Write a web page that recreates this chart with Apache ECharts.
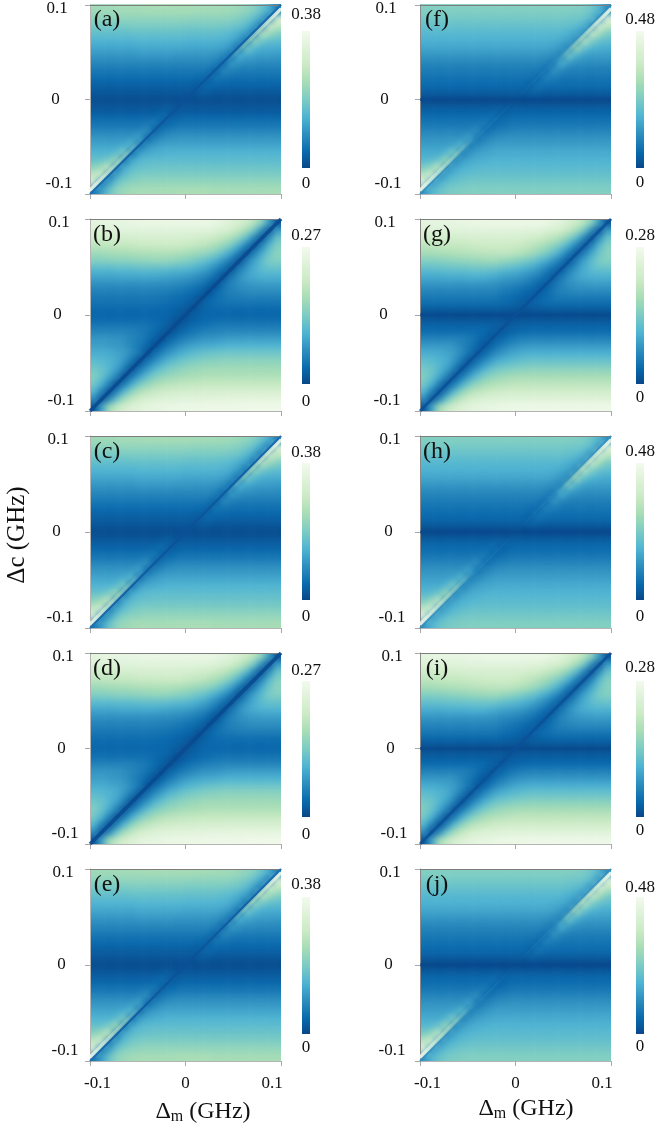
<!DOCTYPE html>
<html><head><meta charset="utf-8">
<style>html,body{margin:0;padding:0;background:#fff}#wrap{position:relative;width:657px;height:1125px;overflow:hidden}#u,#c{position:absolute;left:0;top:0;width:657px;height:1125px}#u{filter:blur(3.4px)}</style>
<script src="https://cdn.jsdelivr.net/npm/echarts@6/dist/echarts.min.js"></script>
</head><body><div id="wrap"><div id="u"></div><div id="c"></div></div>
<script>
// Rows run top (+0.1) to bottom (-0.1), columns left (-0.1) to right (+0.1).
const gridA = [
[60,60,60,61,61,61,61,62,62,62,62,62,62,62,61,61,61,60,60,58,56,52,45,35,18],
[55,55,55,55,56,56,56,56,56,56,56,56,56,55,55,55,55,55,54,52,48,42,32,16,85],
[49,49,49,49,49,50,50,50,50,50,50,50,49,49,49,49,49,48,47,45,40,30,15,80,70],
[43,43,43,43,43,44,44,44,44,44,44,44,43,43,43,43,43,42,40,36,30,14,72,60,52],
[38,38,38,38,38,38,39,39,39,39,39,39,38,38,38,38,38,37,34,28,13,58,48,43,42],
[33,33,33,33,33,33,34,34,34,34,34,34,33,33,33,33,33,31,26,12,50,40,36,35,35],
[28,28,28,28,28,28,29,29,29,29,29,28,28,28,28,28,27,23,12,38,33,31,30,30,29],
[23,23,23,23,23,23,23,23,23,23,23,23,23,23,23,23,20,11,30,27,25,25,24,24,24],
[18,18,18,18,18,18,18,18,18,18,18,18,18,18,18,16,10,24,21,20,19,19,19,19,19],
[14,14,14,14,14,14,14,14,14,14,14,14,14,14,13,9,18,16,15,15,15,15,15,15,15],
[10,10,10,10,10,10,10,10,10,10,10,10,10,9,8,13,12,11,11,11,11,11,11,11,11],
[7,7,7,7,7,7,7,7,7,7,7,7,7,6,9,8,7,7,7,7,7,7,7,7,7],
[4,4,4,4,4,4,4,4,4,4,4,4,5,4,4,4,4,4,4,4,4,4,4,4,4],
[7,7,7,7,7,7,7,7,7,8,9,6,7,7,7,7,7,7,7,7,7,7,7,7,7],
[11,11,11,11,11,11,11,11,12,14,8,10,11,11,11,11,11,11,11,11,11,11,11,11,11],
[16,16,16,16,16,16,16,17,19,9,13,15,16,16,16,16,16,16,16,16,16,16,16,16,16],
[22,22,22,22,22,22,23,26,10,17,20,22,22,22,22,22,22,22,22,22,22,22,22,22,22],
[28,28,28,28,28,29,33,11,21,25,27,28,28,28,28,28,28,28,28,28,28,28,28,28,28],
[33,33,33,33,35,42,12,26,30,32,33,33,33,33,33,33,33,33,33,33,33,33,33,33,33],
[38,38,38,42,52,13,30,34,36,37,38,38,38,38,38,38,38,38,38,38,38,38,38,38,38],
[44,45,50,62,14,34,39,41,42,42,42,42,42,42,42,42,42,42,42,42,42,42,42,42,42],
[55,62,75,15,35,42,44,45,46,46,46,46,46,46,46,46,46,46,46,46,46,46,46,46,46],
[72,82,16,32,42,48,50,51,51,51,51,51,51,51,51,51,51,51,51,51,51,51,51,51,51],
[85,16,30,45,52,55,56,57,57,57,57,57,57,57,57,57,57,57,57,57,57,57,57,57,57],
[17,30,45,55,59,61,62,62,62,62,62,63,63,63,63,63,62,62,62,62,62,62,62,62,62]
];
const gridB = [
[90,90,91,91,92,92,93,93,93,93,93,93,93,93,93,93,92,89,86,82,76,68,55,30,6],
[85,85,86,86,87,87,88,88,88,88,88,88,88,88,87,87,84,82,78,72,62,48,25,5,30],
[78,78,79,79,80,80,81,81,81,81,81,81,80,80,78,76,74,70,64,55,42,22,5,25,45],
[70,70,71,72,72,73,74,74,75,75,75,75,74,72,70,67,63,57,49,37,20,5,22,40,52],
[60,60,61,62,62,63,64,64,65,65,65,64,62,60,58,55,50,42,32,18,4,20,35,47,55],
[52,52,53,54,54,55,55,56,57,57,56,54,52,49,46,41,35,27,17,4,20,32,42,50,52],
[41,41,41,42,42,42,43,43,43,43,42,41,40,38,34,30,23,15,4,19,28,36,42,44,44],
[33,33,33,33,34,34,34,34,34,33,32,31,30,28,25,20,14,4,17,26,32,35,37,37,37],
[26,26,26,26,26,26,26,26,26,25,25,24,22,20,17,12,4,15,22,26,28,29,30,30,30],
[21,21,21,21,21,21,21,21,21,20,19,18,16,14,11,4,13,18,21,23,24,25,25,25,25],
[17,17,17,17,17,17,17,17,17,16,15,14,12,10,4,12,15,17,18,19,19,19,19,19,19],
[14,14,14,14,14,14,14,14,14,13,12,11,9,4,10,12,14,14,14,14,14,14,14,14,14],
[12,12,12,12,12,12,12,12,12,12,11,9,4,9,11,12,12,12,12,12,12,12,12,12,12],
[15,15,15,15,15,15,15,15,14,12,9,4,8,11,13,14,16,16,16,16,16,16,16,16,16],
[21,21,21,21,21,21,19,17,14,10,4,9,13,16,18,20,21,22,22,22,22,22,22,22,22],
[28,28,28,27,25,23,20,16,11,4,11,16,20,23,26,27,28,29,30,30,30,30,30,30,30],
[31,31,30,29,27,23,18,12,4,12,19,25,29,32,34,35,36,37,38,38,38,38,38,38,38],
[36,36,35,33,30,25,17,4,14,22,29,34,38,41,43,45,46,47,47,47,47,47,47,47,47],
[42,40,38,35,28,18,4,15,25,33,40,44,48,50,52,53,54,55,55,55,55,55,55,55,55],
[47,45,40,32,20,4,16,27,38,45,50,53,56,58,59,60,60,60,60,60,60,60,60,60,60],
[52,45,35,22,4,17,30,42,50,55,58,60,62,63,64,65,65,65,65,65,65,65,65,65,65],
[48,38,22,4,18,35,48,56,62,66,68,70,71,72,72,73,73,73,73,73,73,73,73,73,73],
[40,22,5,20,40,55,65,70,74,76,78,79,80,80,81,81,81,82,82,82,82,82,82,82,82],
[25,5,22,45,62,72,78,82,84,86,87,88,88,88,88,89,89,89,90,90,90,90,90,90,90],
[6,30,60,72,80,85,88,90,91,92,93,93,94,94,94,95,95,95,95,95,96,96,96,96,96]
];
const gridF = [
[52,52,52,52,52,52,52,52,52,52,52,52,52,52,52,52,52,52,52,52,51,50,46,38,24],
[48,48,48,48,48,48,48,48,48,48,48,48,48,48,48,48,48,48,48,47,47,45,40,24,88],
[44,44,44,44,44,44,44,44,44,44,44,44,44,44,44,44,44,44,44,43,41,36,23,85,70],
[40,40,40,40,40,40,40,40,40,40,40,40,40,40,40,40,40,40,39,37,33,23,80,62,50],
[37,37,37,37,37,37,37,37,37,37,37,37,37,37,37,37,37,36,34,31,22,72,52,44,42],
[33,33,33,33,33,33,33,33,33,33,33,33,33,33,33,33,33,31,28,21,62,44,38,36,35],
[28,28,28,28,28,28,28,28,28,28,28,28,28,28,28,28,27,25,19,50,36,31,30,30,30],
[23,23,23,23,23,23,23,23,23,23,23,23,23,23,23,23,21,17,38,29,26,25,25,25,25],
[19,19,19,19,19,19,19,19,19,19,19,19,19,19,19,18,14,28,23,21,20,20,20,20,20],
[16,16,16,16,16,16,16,16,16,16,16,16,16,16,15,12,22,19,17,17,17,17,17,17,17],
[13,13,13,13,13,13,13,13,13,13,13,13,13,13,10,17,15,14,14,14,14,14,14,14,14],
[9,9,9,9,9,9,9,9,9,9,9,9,9,8,11,10,9,9,9,9,9,9,9,9,9],
[2,2,2,2,2,2,2,2,2,2,2,2,3,2,2,2,2,2,2,2,2,2,2,2,2],
[9,9,9,9,9,9,9,9,9,9,10,8,9,9,9,9,9,9,9,9,9,9,9,9,9],
[13,13,13,13,13,13,13,13,13,15,10,12,13,13,13,13,13,13,13,13,13,13,13,13,13],
[17,17,17,17,17,17,17,17,20,12,14,16,17,17,17,17,17,17,17,17,17,17,17,17,17],
[22,22,22,22,22,22,22,26,14,17,20,21,22,22,22,22,22,22,22,22,22,22,22,22,22],
[27,27,27,27,27,27,33,16,21,24,26,27,27,27,27,27,27,27,27,27,27,27,27,27,27],
[31,31,31,31,33,42,18,24,28,30,31,31,31,31,31,31,31,31,31,31,31,31,31,31,31],
[35,35,35,40,52,20,27,31,33,34,35,35,35,35,35,35,35,35,35,35,35,35,35,35,35],
[40,41,46,62,22,30,34,36,37,38,38,38,38,38,38,38,38,38,38,38,38,38,38,38,38],
[50,58,75,24,32,37,39,40,41,41,41,41,41,41,41,41,41,41,41,41,41,41,41,41,41],
[70,83,25,33,39,42,43,44,44,44,44,44,44,44,44,44,44,44,44,44,44,44,44,44,44],
[88,26,36,42,45,47,48,48,48,48,48,48,48,48,48,48,48,48,48,48,48,48,48,48,48],
[27,38,45,48,50,51,52,52,52,52,52,52,52,52,52,52,52,52,52,52,52,52,52,52,52]
];
const gridG = [
[90,90,91,91,92,92,93,93,94,94,94,94,94,94,94,94,93,90,87,82,76,68,55,30,6],
[85,85,86,86,87,87,88,88,88,88,88,88,88,88,87,87,84,82,78,72,62,48,25,5,30],
[78,78,79,79,80,80,81,81,82,82,82,82,81,81,78,76,73,69,63,54,41,22,5,25,45],
[70,70,71,72,72,73,74,75,76,76,76,76,75,73,70,66,61,55,47,36,20,6,22,40,52],
[62,62,63,64,65,66,67,68,69,69,70,70,68,65,61,56,50,42,32,18,6,20,34,46,54],
[52,52,53,54,55,56,57,58,59,60,58,56,53,50,46,41,35,27,17,6,20,32,42,50,52],
[43,43,44,44,45,45,46,46,47,46,44,42,40,37,34,29,23,15,7,19,28,36,42,44,45],
[35,35,35,36,36,36,37,37,37,35,33,31,30,28,24,20,14,7,17,26,32,35,37,37,37],
[28,28,28,28,28,28,28,28,28,27,25,24,22,20,17,12,8,15,22,26,28,29,30,30,30],
[22,22,22,22,22,22,22,22,22,22,20,18,16,14,11,8,13,18,21,23,24,24,24,24,24],
[17,17,17,17,17,17,17,17,17,17,15,14,12,10,8,12,15,16,17,17,17,17,17,17,17],
[11,11,11,11,11,11,11,11,11,11,11,10,9,7,9,10,11,11,11,11,11,11,11,11,11],
[3,3,3,3,3,3,3,3,3,3,3,3,3,3,3,3,3,3,3,3,3,3,3,3,3],
[9,9,9,9,9,9,9,9,9,9,9,7,8,9,9,9,9,9,9,9,9,9,9,9,9],
[13,13,13,13,13,13,13,13,13,10,7,9,11,12,13,13,13,13,13,13,13,13,13,13,13],
[21,21,21,21,21,21,19,15,11,7,11,15,18,20,21,21,21,21,21,21,21,21,21,21,21],
[29,29,29,29,27,23,18,12,6,12,18,23,26,28,29,29,29,29,29,29,29,29,29,29,29],
[36,36,35,33,30,24,16,6,13,21,27,31,34,36,37,37,37,37,37,37,37,37,37,37,37],
[43,41,39,36,28,18,5,15,24,32,37,40,42,44,45,45,45,45,45,45,45,45,45,45,45],
[48,46,40,32,20,5,16,27,37,44,48,50,52,53,54,54,54,54,54,54,54,54,54,54,54],
[52,45,35,22,5,17,30,42,50,55,58,60,61,62,62,62,62,62,62,62,62,62,62,62,62],
[48,38,22,5,18,35,48,56,62,65,67,69,70,70,70,70,70,70,70,70,70,70,70,70,70],
[40,22,5,20,40,55,65,70,73,75,77,78,78,78,78,78,78,78,78,78,78,78,78,78,78],
[25,5,22,45,62,72,78,82,84,85,86,87,87,87,87,87,87,87,87,87,87,87,87,87,87],
[6,30,60,72,80,85,88,90,91,92,93,94,94,94,95,95,95,95,95,95,95,95,95,95,95]
];
const gridC = gridA, gridE = gridA, gridD = gridB, gridH = gridF, gridJ = gridF, gridI = gridG;

const axisRange = [-0.1, 0.1];
const tickLabels = ['-0.1', '0', '0.1'];
const panelLetters = ['(a)','(b)','(c)','(d)','(e)','(f)','(g)','(h)','(i)','(j)'];
const barMaxima = [0.38,0.27,0.38,0.27,0.38,0.48,0.28,0.48,0.28,0.48];
const barMaximumLabels = ['0.38','0.27','0.38','0.27','0.38','0.48','0.28','0.48','0.28','0.48'];
const panelGrids = [gridA,gridB,gridC,gridD,gridE,gridF,gridG,gridH,gridI,gridJ];
const diagonal = [[-0.1,-0.1],[0.1,0.1]];
const zeroDetuning = [[-0.1,0],[0.1,0]];
const ridgeUpper = [[0.1,0.0965],[0.045,0.0415]];
const ridgeLower = [[-0.1,-0.0965],[-0.045,-0.0415]];

// Layout only
const GnBu = ['#084081','#0868ac','#2b8cbe','#4eb3d3','#7bccc4','#a8ddb5','#ccebc5','#e0f3db','#f7fcf0'];
const SERIF = '"Liberation Serif","Times New Roman",serif';
const W = 191;
const layout = [
 {l:90, t:4,  h:190,bt:31, bh:137,bl:302,mx:15,  zy:184,yc:33,kind:'thin'},
 {l:90, t:219,h:192,bt:247,bh:137,bl:302,mx:236, zy:402,yc:31,kind:'wide'},
 {l:90, t:436,h:192,bt:463,bh:137,bl:302,mx:453, zy:617,yc:32,kind:'thin'},
 {l:90, t:653,h:191,bt:681,bh:136,bl:302,mx:671, zy:835,yc:27,kind:'wide'},
 {l:90, t:869,h:192,bt:897,bh:137,bl:302,mx:885, zy:1048,yc:27,kind:'thin'},
 {l:420,t:4,  h:190,bt:31, bh:137,bl:636,mx:20,  zy:183,yc:34,kind:'faint'},
 {l:420,t:219,h:192,bt:247,bh:137,bl:636,mx:236, zy:398,yc:35,kind:'mid'},
 {l:420,t:436,h:192,bt:463,bh:137,bl:636,mx:452, zy:617,yc:30,kind:'faint'},
 {l:420,t:653,h:191,bt:681,bh:136,bl:636,mx:668, zy:831,yc:28,kind:'mid'},
 {l:420,t:869,h:192,bt:897,bh:137,bl:636,mx:888, zy:1047,yc:30,kind:'faint'}
];

// Under-layer: the heatmaps. One repeated edge cell on each side keeps the soft rendering true at the frame.
const uGrids=[],uX=[],uY=[],uSeries=[],uVisual=[];
const paddedCategories = Array.from({length:panelGrids[0].length+2},(_,i)=>i);
layout.forEach((p,i)=>{
  const n=panelGrids[i].length, cw=W/n, ch=p.h/n;
  uGrids.push({left:p.l-cw,top:p.t-ch,width:W+2*cw,height:p.h+2*ch});
  uX.push({type:'category',gridIndex:i,data:paddedCategories,show:false});
  uY.push({type:'category',gridIndex:i,data:paddedCategories,show:false});
  const src=panelGrids[i], rows=[src[0],...src,src[n-1]], data=[];
  rows.forEach((row,r)=>[row[0],...row,row[n-1]].forEach((pct,c)=>data.push([c,n+1-r,pct*barMaxima[i]/100])));
  uSeries.push({type:'heatmap',name:'panel '+panelLetters[i],xAxisIndex:i,yAxisIndex:i,data,silent:true,animation:false,progressive:0,itemStyle:{borderWidth:0}});
  uVisual.push({type:'continuous',show:false,seriesIndex:i,min:0,max:barMaxima[i],inRange:{color:GnBu}});
});
const uDom=document.getElementById('u');
uDom.style.clipPath="path('"+layout.map(p=>`M${p.l} ${p.t}h${W}v${p.h}h${-W}z`).join(' ')+"')";
echarts.init(uDom,null,{renderer:'canvas'}).setOption({animation:false,grid:uGrids,xAxis:uX,yAxis:uY,visualMap:uVisual,series:uSeries});

// Top layer: frames, ticks, diagonal ridges, colour bars, text.
const grids=[],xAxes=[],yAxes=[],series=[],visualMaps=[],graphics=[];
const txt=(text,x,y,size,extra)=>({type:'text',x,y,z:100,silent:true,style:Object.assign({text,fontFamily:SERIF,fontSize:size,fill:'#111',align:'center',verticalAlign:'middle'},extra||{})});
const fadeStops=(a,b,c)=>({type:'linear',x:0,y:1,x2:1,y2:0,colorStops:[{offset:0,color:a},{offset:.5,color:b},{offset:1,color:c}]});
const toCorner=(x,y,x2,y2)=>({type:'linear',x,y,x2,y2,colorStops:[{offset:0,color:'rgba(247,252,240,.95)'},{offset:.5,color:'rgba(200,235,200,.5)'},{offset:1,color:'rgba(170,220,190,0)'}]});
function overlay(g,data,lineStyle,name){
  series.push({type:'line',name,xAxisIndex:2*g+1,yAxisIndex:2*g+1,data,symbol:'none',silent:true,animation:false,clip:true,lineStyle,z:5});
}
layout.forEach((p,i)=>{
  const bottomRow = i===4||i===9;
  grids.push({left:p.l,top:p.t,width:W,height:p.h});
  xAxes.push({type:'value',gridIndex:i,position:'top',min:axisRange[0],max:axisRange[1],axisLabel:{show:false},axisTick:{show:false},splitLine:{show:false},axisLine:{show:true,onZero:false,lineStyle:{color:'#7d7d7d',width:1}}});
  xAxes.push({type:'value',gridIndex:i,position:'bottom',min:axisRange[0],max:axisRange[1],interval:0.1,splitLine:{show:false},
    axisLine:{show:true,onZero:false,lineStyle:{color:'#b4b4b4',width:1}},axisTick:{show:true,length:5,lineStyle:{color:'#a8a8a8'}},
    axisLabel:{show:bottomRow,margin:14,hideOverlap:false,fontFamily:SERIF,fontSize:17,color:'#111',
      formatter:v=>v===0?'{z|'+tickLabels[1]+'}':v<0?'{a|'+tickLabels[0]+'}':'{b|'+tickLabels[2]+'}',
      rich:{z:{fontFamily:SERIF,fontSize:17},a:{fontFamily:SERIF,fontSize:17,padding:[0,0,0,15]},b:{fontFamily:SERIF,fontSize:17,padding:[0,18,0,0]}}}});
  yAxes.push({type:'value',gridIndex:i,position:'right',min:axisRange[0],max:axisRange[1],axisLabel:{show:false},axisTick:{show:false},axisLine:{show:false},splitLine:{show:false}});
  yAxes.push({type:'value',gridIndex:i,position:'left',min:axisRange[0],max:axisRange[1],interval:0.1,splitLine:{show:false},
    axisLine:{show:true,onZero:false,lineStyle:{color:i<5?'#b4b4b4':'#8a8a8a',width:1}},axisTick:{show:true,length:5,lineStyle:{color:'#a8a8a8'}},
    axisLabel:{margin:p.yc,align:'center',hideOverlap:false,fontFamily:SERIF,fontSize:17,color:'#111',
      formatter:v=>v===0?'{z|'+tickLabels[1]+'}':v<0?'{a|'+tickLabels[0]+'}':'{b|'+tickLabels[2]+'}',
      rich:{z:{fontFamily:SERIF,fontSize:17,padding:[0,3,0,0]},a:{fontFamily:SERIF,fontSize:17,padding:[0,0,20,4]},b:{fontFamily:SERIF,fontSize:17,padding:[7,0,0,0]}}}});
  // colour bar: 3 px extra each end, masked so the library's rounded ends do not show
  visualMaps.push({type:'continuous',seriesIndex:[],min:0,max:barMaxima[i],calculable:false,hoverLink:false,orient:'vertical',
    left:p.bl,top:p.bt-3,itemWidth:8,itemHeight:p.bh+6,padding:0,showLabel:false,inRange:{color:GnBu}});
  graphics.push({type:'rect',z:100,silent:true,shape:{x:p.bl-1,y:p.bt-4,width:10,height:4},style:{fill:'#fff'}});
  graphics.push({type:'rect',z:100,silent:true,shape:{x:p.bl-1,y:p.bt+p.bh,width:10,height:4},style:{fill:'#fff'}});
  if(p.kind==='wide'){
    overlay(i,diagonal,{color:'#0a4a90',width:3.5,opacity:.9},'core');
  } else if(p.kind==='mid'){
    overlay(i,zeroDetuning,{color:'#084a90',width:3,opacity:.7},'zero');
    overlay(i,diagonal,{color:'#0b5099',width:3,opacity:.85},'core');
  } else if(p.kind==='thin'){
    overlay(i,ridgeUpper,{color:toCorner(1,0,0,1),width:4},'ridge');
    overlay(i,ridgeLower,{color:toCorner(0,1,1,0),width:4},'ridge');
    overlay(i,diagonal,{color:fadeStops('#1a70b2','#0a4f96','#1a70b2'),width:2.2},'core');
  } else {
    overlay(i,zeroDetuning,{color:'#084a90',width:3,opacity:.7},'zero');
    overlay(i,ridgeUpper,{color:toCorner(1,0,0,1),width:4},'ridge');
    overlay(i,ridgeLower,{color:toCorner(0,1,1,0),width:4},'ridge');
    overlay(i,diagonal,{color:fadeStops('rgba(43,140,190,.9)','rgba(43,140,190,0)','rgba(43,140,190,.9)'),width:2},'core');
  }
  graphics.push(txt(panelLetters[i],p.l+17,p.t+16,24));
  graphics.push(txt(barMaximumLabels[i],p.bl+4,p.mx,17));
  graphics.push(txt('0',p.bl+4,p.zy,17));
});
const axisRich={a:{fontFamily:SERIF,fontSize:24,fill:'#111'},m:{fontFamily:SERIF,fontSize:16,fill:'#111',padding:[9,0,0,0]}};
graphics.push({type:'text',z:100,x:203,y:1112,silent:true,style:{text:'{a|Δ}{m|m}{a| (GHz)}',rich:axisRich,align:'center',verticalAlign:'middle'}});
graphics.push({type:'text',z:100,x:526,y:1109,silent:true,style:{text:'{a|Δ}{m|m}{a| (GHz)}',rich:axisRich,align:'center',verticalAlign:'middle'}});
graphics.push({type:'text',z:100,x:17,y:535,rotation:Math.PI/2,silent:true,style:{text:'Δc (GHz)',fontFamily:SERIF,fontSize:25,fill:'#111',align:'center',verticalAlign:'middle'}});

echarts.init(document.getElementById('c'),null,{renderer:'canvas'}).setOption({animation:false,backgroundColor:'transparent',grid:grids,xAxis:xAxes,yAxis:yAxes,visualMap:visualMaps,series,graphic:{elements:graphics}});
</script></body></html>
